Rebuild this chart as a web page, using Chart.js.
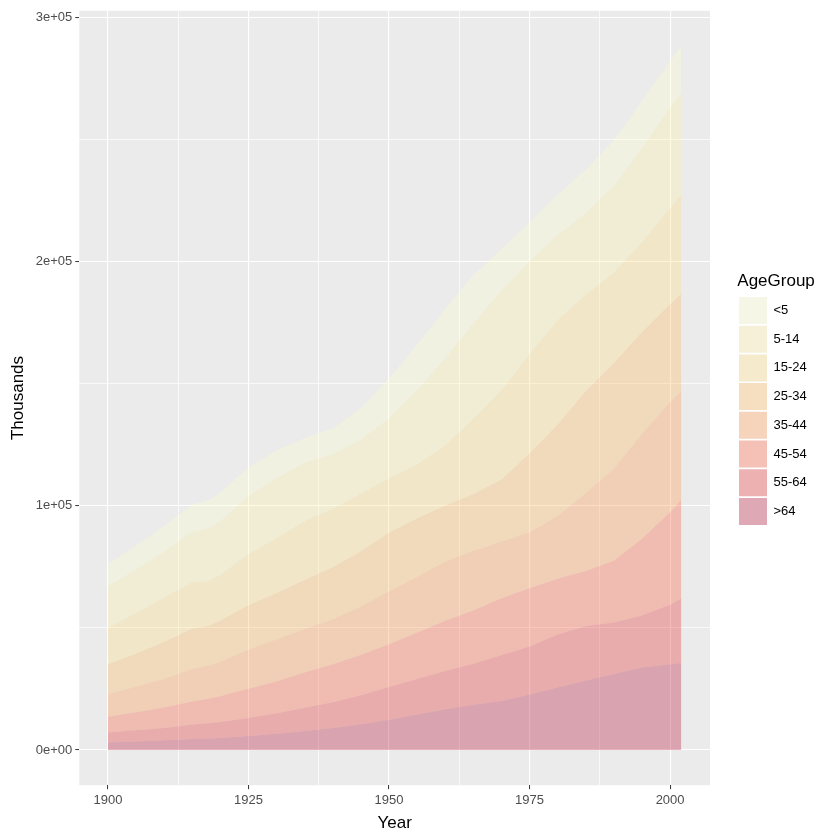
<!DOCTYPE html>
<html>
<head>
<meta charset="utf-8">
<script src="https://cdn.jsdelivr.net/npm/chart.js@4"></script>
<style>
  body { margin: 0; background: #fff; }
  canvas { display: block; }
</style>
</head>
<body>
<canvas id="popChart" width="840" height="840"></canvas>
<script>
// US population by age group, thousands
var years = [1900, 1905, 1910, 1915, 1918, 1920, 1925, 1930, 1935, 1940, 1945, 1950,
             1955, 1960, 1965, 1970, 1975, 1980, 1985, 1990, 1995, 2000, 2002];
var ageGroups = ['>64', '55-64', '45-54', '35-44', '25-34', '15-24', '5-14', '<5'];
var popOver64 = [3099, 3500, 3950, 4500, 4600, 4930, 5700, 6630, 7800, 9020, 10500, 12400,
                 14500, 16700, 18500, 20100, 22700, 25600, 28500, 31100, 33800, 35100, 35602];
var pop55_64 = [4026, 4550, 5050, 5900, 6300, 6530, 7400, 8400, 9500, 10570, 11900, 13400,
                14600, 15600, 16800, 18700, 19700, 21700, 22300, 21100, 21300, 24400, 26565];
var pop45_54 = [6437, 7400, 8370, 9500, 10100, 10500, 12000, 13020, 14400, 15510, 16500, 17500,
                18900, 20600, 21800, 23300, 23800, 22800, 22500, 25300, 31400, 37800, 40209];
var pop35_44 = [9273, 10400, 11660, 13200, 13600, 14120, 15900, 17200, 17800, 18330, 19800, 21600,
                22800, 24200, 24400, 23200, 22800, 25700, 31800, 37600, 42900, 45200, 44507];
var pop25_34 = [12161, 13600, 15150, 16500, 16300, 16860, 18300, 18950, 20100, 21340, 22600, 24000,
                24000, 22900, 23200, 25300, 32400, 37300, 41800, 43200, 41600, 39900, 39928];
var pop15_24 = [14951, 16500, 18130, 19000, 18200, 18710, 20800, 22420, 23900, 23920, 23500, 22300,
                22000, 24600, 30800, 36500, 40600, 42700, 39400, 37000, 36800, 39300, 40590];
var pop5_14 = [16966, 17900, 18870, 20600, 21600, 22040, 23800, 24610, 24000, 22430, 22200, 24500,
               30500, 35700, 39000, 40800, 37900, 35000, 33500, 35500, 38500, 41100, 41209];
var popUnder5 = [9181, 9900, 10630, 11300, 11600, 11600, 11900, 11440, 10200, 10540, 13000, 16400,
                 18600, 20300, 19800, 17200, 16100, 16500, 17800, 18800, 19500, 19200, 19609];
var xTicks = [1900, 1912.5, 1925, 1937.5, 1950, 1962.5, 1975, 1987.5, 2000];
var yTicks = [0, 50000, 100000, 150000, 200000, 250000, 300000];

// YlOrRd, 8 classes (bottom group first)
var palette = ['#B10026', '#E31A1C', '#FC4E2A', '#FD8D3C', '#FEB24C', '#FED976', '#FFEDA0', '#FFFFCC'];
var alpha = 0.3;
var series = [popOver64, pop55_64, pop45_54, pop35_44, pop25_34, pop15_24, pop5_14, popUnder5];

function rgba(hex, a) {
    var r = parseInt(hex.substr(1, 2), 16), g = parseInt(hex.substr(3, 2), 16), b = parseInt(hex.substr(5, 2), 16);
    return 'rgba(' + r + ',' + g + ',' + b + ',' + a + ')';
}
// legend key = fill blended over grey95 key background
function overGrey(hex, a) {
    var c = [1, 3, 5].map(function (k) { return parseInt(hex.substr(k, 2), 16); });
    return 'rgb(' + c.map(function (v) { return Math.round(v * a + 242 * (1 - a)); }).join(',') + ')';
}

var datasets = series.map(function (vals, i) {
    return {
        label: ageGroups[i],
        data: years.map(function (yr, j) { return { x: yr, y: vals[j] }; }),
        backgroundColor: rgba(palette[i], alpha),
        borderWidth: 0,
        pointRadius: 0,
        pointHoverRadius: 0,
        fill: i === 0 ? 'origin' : '-1',
        tension: 0
    };
});

var panelBg = {
    id: 'panelBg',
    beforeDraw: function (chart) {
        var a = chart.chartArea, ctx = chart.ctx;
        ctx.save();
        ctx.fillStyle = '#EBEBEB';
        ctx.fillRect(a.left, a.top, a.right - a.left, a.bottom - a.top);
        ctx.restore();
    }
};

var tickFont = { family: '"Liberation Sans", Arial, sans-serif', size: 13 };
var titleFont = { family: '"Liberation Sans", Arial, sans-serif', size: 17 };

function isMajorX(v) { return v % 25 === 0; }
function isMajorY(v) { return v % 100000 === 0; }

var chart = new Chart(document.getElementById('popChart').getContext('2d'), {
    type: 'line',
    data: { datasets: datasets },
    plugins: [panelBg],
    options: {
        responsive: false,
        animation: false,
        layout: { padding: { top: 9.6, right: 30, left: 0, bottom: 0 } },
        plugins: {
            tooltip: { enabled: false },
            legend: {
                position: 'right',
                align: 'start',
                reverse: true,
                title: {
                    display: true,
                    text: 'AgeGroup',
                    position: 'start',
                    color: '#000',
                    font: titleFont,
                    padding: { top: 263, bottom: 2.3 }
                },
                labels: {
                    boxWidth: 28,
                    boxHeight: 27,
                    padding: 1.7,
                    color: '#1A1A1A',
                    font: tickFont,
                    generateLabels: function (chart) {
                        return chart.data.datasets.map(function (ds, i) {
                            return {
                                text: ds.label,
                                fillStyle: overGrey(palette[i], alpha),
                                strokeStyle: 'rgba(0,0,0,0)',
                                lineWidth: 0,
                                hidden: false,
                                datasetIndex: i
                            };
                        });
                    }
                }
            }
        },
        scales: {
            x: {
                type: 'linear',
                min: 1894.9,
                max: 2007.1,
                afterBuildTicks: function (s) { s.ticks = xTicks.map(function (v) { return { value: v }; }); },
                afterFit: function (s) { s.height = 54.8; },
                border: { display: false },
                grid: {
                    color: '#FFFFFF',
                    lineWidth: function (c) { return c.tick && isMajorX(c.tick.value) ? 1.1 : 0.7; },
                    tickLength: 4,
                    tickColor: function (c) { return c.tick && isMajorX(c.tick.value) ? '#333333' : 'rgba(0,0,0,0)'; },
                    tickWidth: 1
                },
                ticks: {
                    autoSkip: false,
                    maxRotation: 0,
                    padding: 3,
                    color: '#4D4D4D',
                    font: tickFont,
                    callback: function (v) { return isMajorX(v) ? String(v) : ''; }
                },
                title: { display: true, text: 'Year', color: '#000', font: titleFont, padding: { top: 0, bottom: 6.8 } }
            },
            y: {
                stacked: true,
                min: -14410,
                max: 302610,
                afterBuildTicks: function (s) { s.ticks = yTicks.map(function (v) { return { value: v }; }); },
                afterFit: function (s) { s.width = 79.3; },
                border: { display: false },
                grid: {
                    color: '#FFFFFF',
                    lineWidth: function (c) { return c.tick && isMajorY(c.tick.value) ? 1.1 : 0.7; },
                    tickLength: 4,
                    tickColor: function (c) { return c.tick && isMajorY(c.tick.value) ? '#333333' : 'rgba(0,0,0,0)'; },
                    tickWidth: 1
                },
                ticks: {
                    autoSkip: false,
                    padding: 3,
                    color: '#4D4D4D',
                    font: tickFont,
                    callback: function (v) {
                        if (!isMajorY(v)) return '';
                        return v === 0 ? '0e+00' : (v / 100000) + 'e+05';
                    }
                },
                title: { display: true, text: 'Thousands', color: '#000', font: titleFont, padding: { top: 7.8, bottom: 0 } }
            },
            gap: {
                type: 'linear',
                position: 'right',
                display: true,
                border: { display: false },
                grid: { display: false, drawTicks: false },
                ticks: { display: false },
                afterFit: function (s) { s.width = 27.3; }
            }
        }
    }
});

// place the legend so its left edge sits at x = 737.3 (panel right edge at 710)
chart.options.layout.padding.right = Math.max(0, 840 - 737.3 - chart.legend.width);
chart.update();
</script>
</body>
</html>
